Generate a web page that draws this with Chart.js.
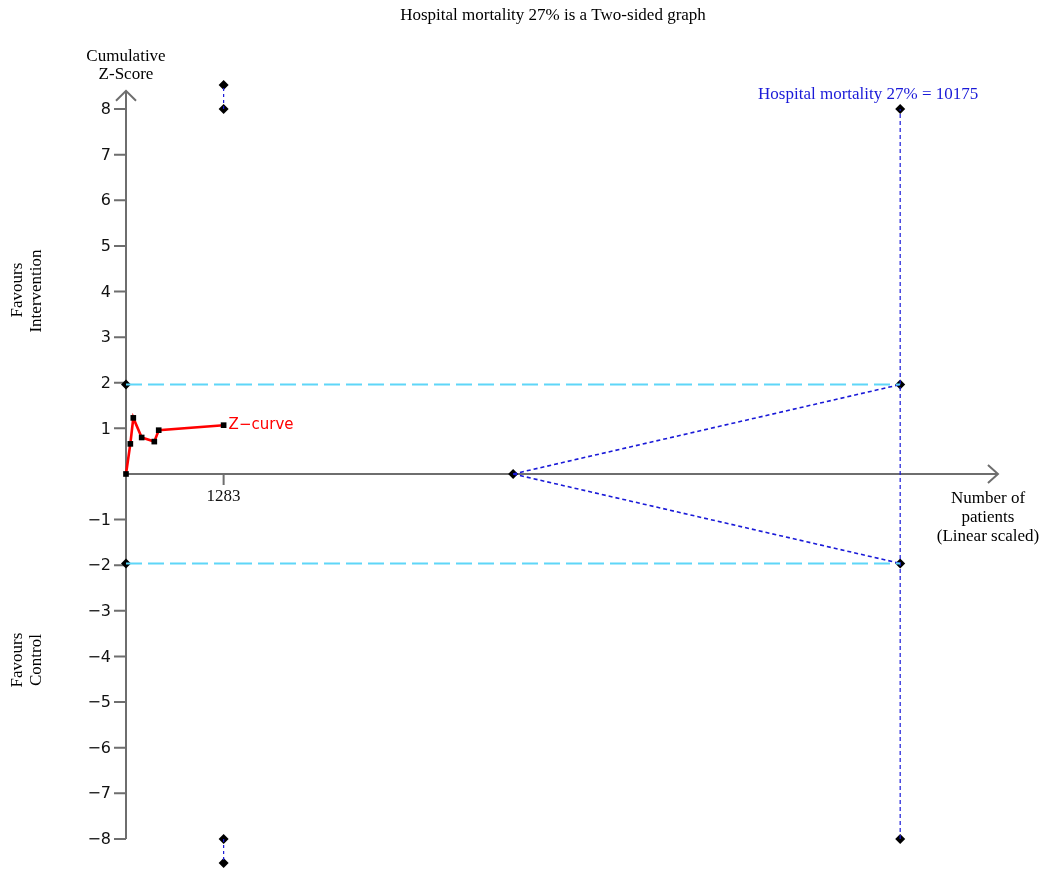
<!DOCTYPE html>
<html>
<head>
<meta charset="utf-8">
<script src="https://cdn.jsdelivr.net/npm/chart.js@4/dist/chart.umd.min.js"></script>
<style>
  body { margin: 0; background: #fff; }
  canvas { display: block; }
</style>
</head>
<body>
<canvas id="tsaChart" width="1047" height="869"></canvas>
<script>
// data
const zPatients = [0, 57, 96, 206, 372, 430, 1283];
const zScores = [0, 0.66, 1.23, 0.80, 0.71, 0.96, 1.07];
const risPatients = 10175;      // required information size
const accruedPatients = 1283;
const futilityStart = 5088;
const boundaryZ = 1.96;
const yTickValues = [-8, -7, -6, -5, -4, -3, -2, -1, 1, 2, 3, 4, 5, 6, 7, 8];
const xTickValues = [1283];
const accruedMarks = [8, 8.53];
const risMarks = [8, 1.96, -1.96, -8];

const serif = '"Liberation Serif", "Times New Roman", serif';
const sans = '"DejaVu Sans", sans-serif';
const blue = '#1a1ad8';
const cyan = '#5ed6f8';

function pts(xs, ys) {
    return xs.map((x, i) => ({ x: x, y: ys[i] }));
}

// all diamond markers
var diamonds = [
    { x: 0, y: boundaryZ }, { x: 0, y: -boundaryZ }, { x: futilityStart, y: 0 }
];
risMarks.forEach(v => diamonds.push({ x: risPatients, y: v }));
accruedMarks.forEach(v => {
    diamonds.push({ x: accruedPatients, y: v });
    diamonds.push({ x: accruedPatients, y: -v });
});

function lineSet(data, color, dash, width) {
    return {
        type: 'line', data: data, borderColor: color, borderWidth: width,
        borderDash: dash, pointRadius: 0, fill: false, tension: 0
    };
}

var datasets = [
    lineSet(pts([0, risPatients], [boundaryZ, boundaryZ]), cyan, [16, 6], 2),
    lineSet(pts([0, risPatients], [-boundaryZ, -boundaryZ]), cyan, [16, 6], 2),
    lineSet(pts([futilityStart, risPatients], [0, boundaryZ]), blue, [4, 3], 1.6),
    lineSet(pts([futilityStart, risPatients], [0, -boundaryZ]), blue, [4, 3], 1.6),
    lineSet(pts([risPatients, risPatients], [-8, 8]), blue, [4, 3], 1.2),
    lineSet(pts([accruedPatients, accruedPatients], accruedMarks), blue, [3, 3], 1.2),
    lineSet(pts([accruedPatients, accruedPatients], accruedMarks.map(v => -v)), blue, [3, 3], 1.2),
    {
        type: 'line', data: pts(zPatients, zScores), borderColor: '#ff0000', borderWidth: 2.6,
        pointStyle: 'rect', pointRadius: 4, pointBackgroundColor: '#000', pointBorderColor: '#000',
        pointBorderWidth: 0, fill: false, tension: 0
    },
    {
        type: 'scatter', data: diamonds, pointStyle: 'rectRot', pointRadius: 5,
        pointBackgroundColor: '#000', pointBorderColor: '#000', pointBorderWidth: 0
    }
];

var axesPlugin = {
    id: 'tsaAxes',
    beforeDatasetsDraw: function (chart) {
        var ctx = chart.ctx, xs = chart.scales.x, ys = chart.scales.y;
        var x0 = xs.getPixelForValue(0), y0 = ys.getPixelForValue(0);
        var yTop = ys.getPixelForValue(8.4), yBot = ys.getPixelForValue(-8);
        var xEnd = xs.getPixelForValue(11460);
        ctx.save();
        ctx.strokeStyle = '#6e6e6e';
        ctx.lineWidth = 2;
        ctx.beginPath();
        ctx.moveTo(x0, yBot); ctx.lineTo(x0, yTop);
        ctx.moveTo(x0 - 10, yTop + 10); ctx.lineTo(x0, yTop); ctx.lineTo(x0 + 10, yTop + 10);
        ctx.moveTo(x0, y0); ctx.lineTo(xEnd, y0);
        ctx.moveTo(xEnd - 10, y0 - 9); ctx.lineTo(xEnd, y0); ctx.lineTo(xEnd - 10, y0 + 9);
        yTickValues.forEach(v => {
            var p = ys.getPixelForValue(v);
            ctx.moveTo(x0 - 12, p); ctx.lineTo(x0, p);
        });
        xTickValues.forEach(v => {
            var p = xs.getPixelForValue(v);
            ctx.moveTo(p, y0); ctx.lineTo(p, y0 + 11);
        });
        ctx.stroke();

        ctx.fillStyle = '#111';
        ctx.font = '16px ' + sans;
        ctx.textAlign = 'right';
        ctx.textBaseline = 'middle';
        yTickValues.forEach(v => {
            var label = v < 0 ? '\u2212' + Math.abs(v) : String(v);
            ctx.fillText(label, x0 - 15, ys.getPixelForValue(v) + 1);
        });
        ctx.font = '17px ' + serif;
        ctx.textAlign = 'center';
        xTickValues.forEach(v => {
            ctx.fillText(String(v), xs.getPixelForValue(v), y0 + 23);
        });
        ctx.restore();
    },
    afterDraw: function (chart) {
        var ctx = chart.ctx, xs = chart.scales.x, ys = chart.scales.y;
        ctx.save();
        ctx.textBaseline = 'middle';
        ctx.textAlign = 'center';
        ctx.fillStyle = '#000';
        ctx.font = '17px ' + serif;
        ctx.fillText('Hospital mortality 27% is a Two-sided graph', 553, 16);
        ctx.fillText('Cumulative', 126, 57);
        ctx.fillText('Z-Score', 126, 75);
        ctx.fillText('Number of', 988, 499);
        ctx.fillText('patients', 988, 518);
        ctx.fillText('(Linear scaled)', 988, 537);

        var sideLabels = [['Favours', 18, 290], ['Intervention', 37, 291], ['Favours', 18, 660], ['Control', 37, 660]];
        sideLabels.forEach(s => {
            ctx.save();
            ctx.translate(s[1], s[2]); ctx.rotate(-Math.PI / 2);
            ctx.fillText(s[0], 0, 0);
            ctx.restore();
        });

        ctx.fillStyle = blue;
        ctx.fillText('Hospital mortality 27% = ' + risPatients, xs.getPixelForValue(risPatients) - 32, 95);

        ctx.fillStyle = '#ff0000';
        ctx.font = '15px ' + sans;
        ctx.textAlign = 'left';
        var last = zPatients.length - 1;
        ctx.fillText('Z\u2212curve', xs.getPixelForValue(zPatients[last]) + 5, ys.getPixelForValue(zScores[last]));
        ctx.restore();
    }
};

var tsaChart = new Chart(document.getElementById('tsaChart'), {
    type: 'line',
    data: { datasets: datasets },
    options: {
        responsive: false,
        animation: false,
        clip: false,
        layout: { padding: { left: 126, right: 46, top: 68, bottom: 2 } },
        scales: {
            x: { type: 'linear', min: 0, max: 11500, display: false },
            y: { type: 'linear', min: -8.55, max: 8.9, display: false }
        },
        plugins: {
            legend: { display: false },
            tooltip: { enabled: false }
        }
    },
    plugins: [axesPlugin]
});
</script>
</body>
</html>
